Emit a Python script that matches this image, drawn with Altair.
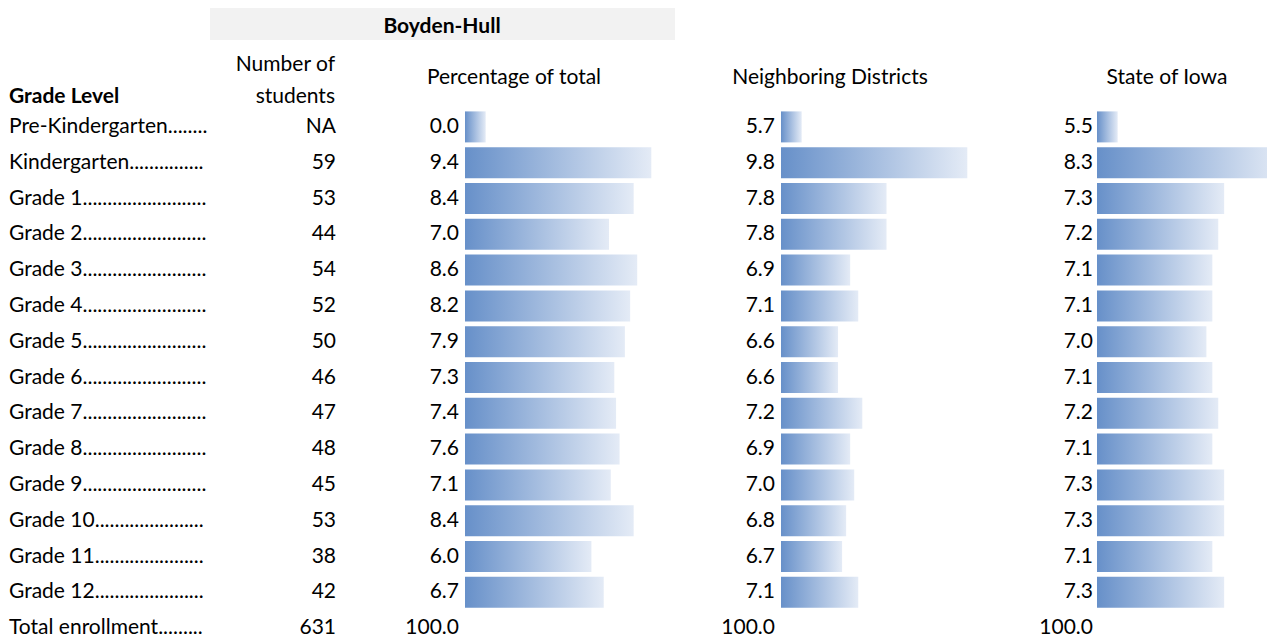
import altair as alt
import pandas as pd

grades = [
    "Pre-Kindergarten........",
    "Kindergarten...............",
    "Grade 1.........................",
    "Grade 2.........................",
    "Grade 3.........................",
    "Grade 4.........................",
    "Grade 5.........................",
    "Grade 6.........................",
    "Grade 7.........................",
    "Grade 8.........................",
    "Grade 9.........................",
    "Grade 10......................",
    "Grade 11......................",
    "Grade 12......................",
    "Total enrollment.........",
]
students = ["NA", "59", "53", "44", "54", "52", "50", "46", "47", "48", "45", "53", "38", "42", "631"]
pct_total = [0.0, 9.4, 8.4, 7.0, 8.6, 8.2, 7.9, 7.3, 7.4, 7.6, 7.1, 8.4, 6.0, 6.7, 100.0]
neighboring = [5.7, 9.8, 7.8, 7.8, 6.9, 7.1, 6.6, 6.6, 7.2, 6.9, 7.0, 6.8, 6.7, 7.1, 100.0]
state = [5.5, 8.3, 7.3, 7.2, 7.1, 7.1, 7.0, 7.1, 7.2, 7.1, 7.3, 7.3, 7.1, 7.3, 100.0]
is_total = [False] * 14 + [True]

banner_title = "Boyden-Hull"
grade_header = "Grade Level"
students_header = ["Number of", "students"]
pct_header = "Percentage of total"
nb_header = "Neighboring Districts"
st_header = "State of Iowa"

df = pd.DataFrame({
    "grade": grades,
    "students": students,
    "pct": pct_total,
    "nb": neighboring,
    "st": state,
    "total": is_total,
})

FONT = "Lato"
FS = 21
H = 638          # full panel height
BODY_TOP = 101   # where the grade rows start

gradient = alt.Gradient(
    gradient="linear",
    stops=[alt.GradientStop(color="#6790C9", offset=0),
           alt.GradientStop(color="#E4EBF6", offset=1)],
    x1=0, x2=1, y1=0, y2=0,
)

yenc = alt.Y("grade:N", sort=grades, axis=None,
             scale=alt.Scale(domain=grades, range=[BODY_TOP, H],
                             paddingInner=0, paddingOuter=0))


def head_text(txt, xpos, ypos, align, bold=False):
    return alt.Chart(pd.DataFrame({"t": [txt]})).mark_text(
        align=align, baseline="alphabetic", font=FONT, fontSize=FS,
        fontWeight="bold" if bold else "normal", color="#000000",
    ).encode(x=alt.value(xpos), y=alt.value(ypos), text="t:N")


def text_layer(field, xpos, align, fmt=None):
    t = alt.Text(f"{field}:N") if fmt is None else alt.Text(f"{field}:Q", format=fmt)
    return alt.Chart(df).mark_text(
        align=align, baseline="middle", font=FONT, fontSize=FS, color="#000000",
    ).encode(x=alt.value(xpos), y=yenc, text=t)


def bar_panel(field, width):
    return alt.Chart(df).transform_filter(
        "!datum.total"
    ).transform_joinaggregate(
        vmin=f"min({field})", vmax=f"max({field})"
    ).transform_calculate(
        blen=f"0.1 + 0.8 * (datum.{field} - datum.vmin) / (datum.vmax - datum.vmin)"
    ).mark_bar(fill=gradient, size=31, clip=True).encode(
        x=alt.X("blen:Q", axis=None, scale=alt.Scale(domain=[0, 1], range=[0, 207])),
        y=yenc,
    ).properties(width=width, height=H)


# A: grade labels
panel_a = alt.layer(
    head_text(grade_header, 1, 95, "left", bold=True),
    text_layer("grade", 1, "left"),
).properties(width=202, height=H)

# B: number of students + Boyden-Hull banner
banner_rect = alt.Chart(pd.DataFrame({"t": [banner_title]})).mark_rect(
    color="#F2F2F2").encode(
    x=alt.value(0), x2=alt.value(465), y=alt.value(0), y2=alt.value(32))
panel_b = alt.layer(
    banner_rect,
    head_text(banner_title, 232, 25, "center", bold=True),
    head_text(students_header[0], 125, 63, "right"),
    head_text(students_header[1], 125, 95, "right"),
    text_layer("students", 126, "right"),
).properties(width=135, height=H)

# C: percentage of total
panel_c1 = alt.layer(
    head_text(pct_header, 169, 76, "center"),
    text_layer("pct", 114, "right", fmt=".1f"),
).properties(width=120, height=H)
panel_c2 = bar_panel("pct", 207)

# D: neighboring districts
panel_d1 = alt.layer(
    head_text(nb_header, 158, 76, "center"),
    text_layer("nb", 103, "right", fmt=".1f"),
).properties(width=109, height=H)
panel_d2 = bar_panel("nb", 207)

# E: state of Iowa
panel_e1 = alt.layer(
    head_text(st_header, 179, 76, "center"),
    text_layer("st", 105, "right", fmt=".1f"),
).properties(width=109, height=H)
panel_e2 = bar_panel("st", 170)

chart = alt.hconcat(
    panel_a, panel_b, panel_c1, panel_c2, panel_d1, panel_d2, panel_e1, panel_e2,
    spacing=0, bounds="flush",
).properties(padding=0).configure_view(stroke=None)

chart.save("out.html", embed_options={"renderer": "svg", "actions": False})
